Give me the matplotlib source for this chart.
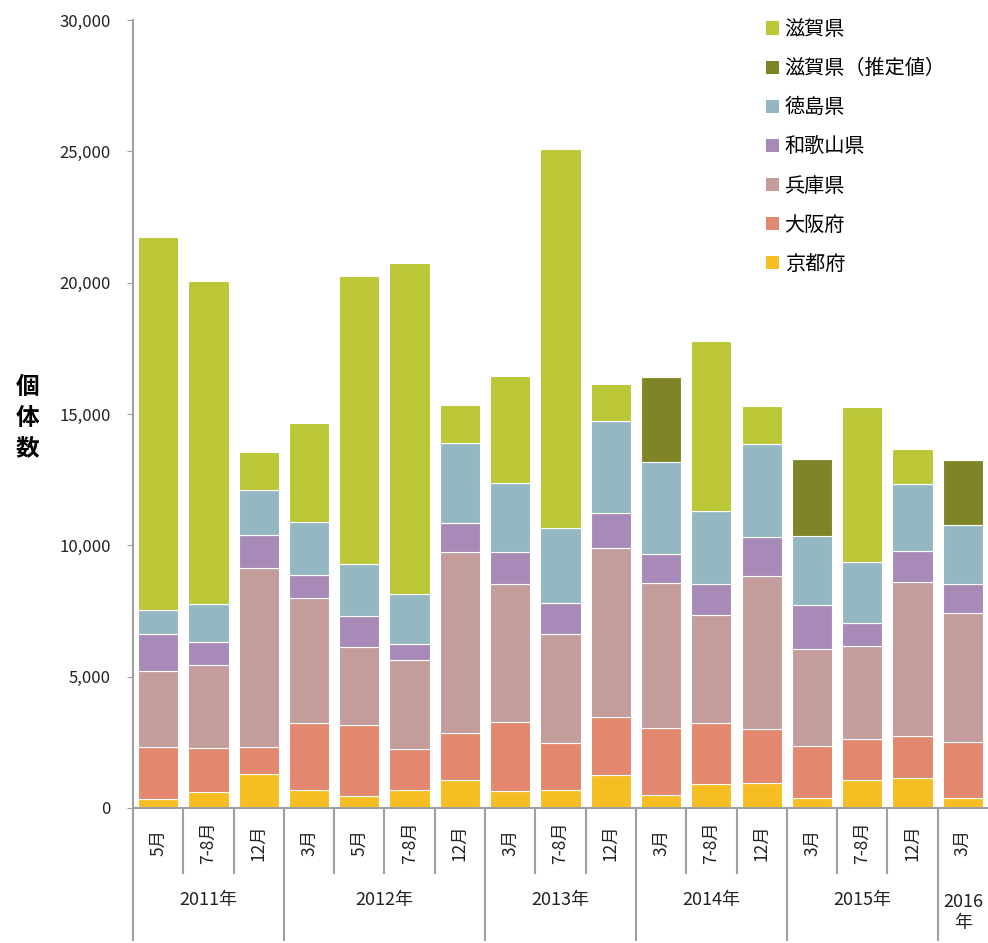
import matplotlib
matplotlib.use('Agg')
import matplotlib.pyplot as plt
import matplotlib.transforms as mtransforms
from matplotlib.patches import Patch
from matplotlib.ticker import FuncFormatter
import numpy as np

plt.rcParams['font.family'] = ['Noto Sans CJK JP', 'DejaVu Sans']

# 調査時期
months = ['5月', '7-8月', '12月',
          '3月', '5月', '7-8月', '12月',
          '3月', '7-8月', '12月',
          '3月', '7-8月', '12月',
          '3月', '7-8月', '12月',
          '3月']
years = ['2011年', '2012年', '2013年', '2014年', '2015年', '2016\n年']
year_counts = [3, 4, 3, 3, 3, 1]

# 府県別の個体数
kyoto = [360, 590, 1290, 680, 460, 700, 1070, 640, 690, 1270, 480, 900, 960, 390, 1070, 1150, 390]
osaka = [1950, 1680, 1020, 2550, 2690, 1530, 1790, 2640, 1790, 2180, 2580, 2330, 2040, 1970, 1540, 1590, 2130]
hyogo = [2910, 3190, 6810, 4760, 2960, 3400, 6870, 5260, 4150, 6450, 5500, 4100, 5840, 3680, 3560, 5870, 4890]
wakayama = [1400, 860, 1260, 880, 1190, 630, 1120, 1220, 1170, 1340, 1120, 1180, 1490, 1700, 860, 1170, 1100]
tokushima = [910, 1450, 1730, 2010, 2000, 1890, 3030, 2620, 2840, 3480, 3480, 2810, 3530, 2610, 2330, 2540, 2260]
shiga_est = [0, 0, 0, 0, 0, 0, 0, 0, 0, 0, 3240, 0, 0, 2950, 0, 0, 2490]
shiga = [14200, 12280, 1450, 3780, 10970, 12590, 1480, 4050, 14430, 1440, 0, 6450, 1440, 0, 5920, 1360, 0]

series = [
    ('京都府', kyoto, '#F6BE22'),
    ('大阪府', osaka, '#E3876E'),
    ('兵庫県', hyogo, '#C49C9C'),
    ('和歌山県', wakayama, '#A78AB7'),
    ('徳島県', tokushima, '#94B8C2'),
    ('滋賀県（推定値）', shiga_est, '#7F8526'),
    ('滋賀県', shiga, '#BBC737'),
]

fig = plt.figure(figsize=(9.88, 9.43), dpi=100)
ax = fig.add_axes([0.1346, 0.1432, 0.8654, 0.8356])

x = np.arange(len(months))
bottom = np.zeros(len(months))
for name, vals, color in series:
    vals = np.array(vals, dtype=float)
    ax.bar(x, vals, width=0.8, bottom=bottom, color=color,
           edgecolor='white', linewidth=0.8)
    bottom += vals

ax.set_xlim(-0.5, len(months) - 0.5)
ax.set_ylim(0, 30000)
ax.set_yticks(np.arange(0, 30001, 5000))
ax.yaxis.set_major_formatter(FuncFormatter(lambda v, p: f'{int(v):,}'))
ax.tick_params(axis='y', direction='out', length=4, color='#A0A0A0',
               labelsize=12, labelcolor='#222222', pad=12)
ax.set_xticks([])
for s in ['top', 'right']:
    ax.spines[s].set_visible(False)
for s in ['left', 'bottom']:
    ax.spines[s].set_color('#A0A0A0')
    ax.spines[s].set_linewidth(1.5)

# Y軸ラベル（縦書き）
fig.text(0.028, 0.557, '個\n体\n数', fontsize=17, fontweight='bold',
         ha='center', va='center', linespacing=1.35)

# 下部の分類軸
trans = mtransforms.blended_transform_factory(ax.transData, ax.transAxes)
y_month = -0.0444
y_msep = -0.0825
y_year = -0.1168
y_ysep = -0.1675
for i, m in enumerate(months):
    ax.text(i, y_month, m, transform=trans, rotation=90, ha='center',
            va='center', fontsize=12.5, color='#222222')

start = 0
ax.plot([-0.5, -0.5], [0, y_ysep], transform=trans, color='#A0A0A0',
        lw=1.5, clip_on=False)
for yr, n in zip(years, year_counts):
    for k in range(1, n):
        xb = start + k - 0.5
        ax.plot([xb, xb], [0, y_msep], transform=trans, color='#A0A0A0',
                lw=1.5, clip_on=False)
    center = start + (n - 1) / 2
    yy = y_year if '\n' not in yr else y_year - 0.016
    ax.text(center, yy, yr, transform=trans, ha='center', va='center',
            fontsize=13, color='#222222', linespacing=1.2)
    start += n
    if start < len(months):
        xb = start - 0.5
        ax.plot([xb, xb], [0, y_ysep], transform=trans, color='#A0A0A0',
                lw=1.5, clip_on=False)

# 凡例
legend_items = [('滋賀県', '#BBC737'), ('滋賀県（推定値）', '#7F8526'),
                ('徳島県', '#94B8C2'), ('和歌山県', '#A78AB7'),
                ('兵庫県', '#C49C9C'), ('大阪府', '#E3876E'),
                ('京都府', '#F6BE22')]
handles = [Patch(facecolor=c, edgecolor='none', label=l) for l, c in legend_items]
fig.legend(handles=handles, loc='upper left', bbox_to_anchor=(0.757, 0.999),
           frameon=False, fontsize=14.5, handlelength=0.62, handleheight=0.62,
           handletextpad=0.3, labelspacing=0.9)

plt.savefig('out.png', dpi=100)
